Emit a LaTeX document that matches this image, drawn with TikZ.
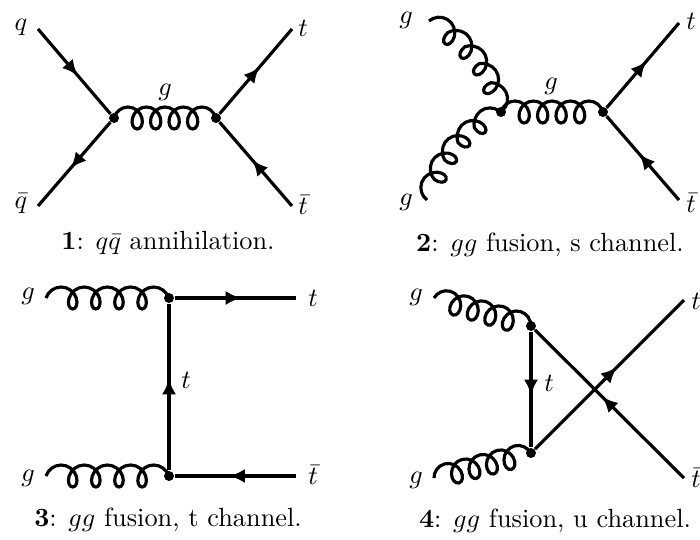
\documentclass[tikz,border=0pt]{standalone}
\usetikzlibrary{decorations.pathmorphing,decorations.markings,arrows.meta}
\tikzset{
  vertexdot/.style={circle,fill=black,inner sep=0pt,minimum size=3.8pt},
  fermion/.style={line width=1.2pt,postaction={decorate},decoration={markings,
    mark=at position 0.55 with {\arrow{Latex[length=6pt,width=5.4pt]}}}},
  gluon/.style={line width=1.2pt,decorate,decoration={coil,amplitude=4.18pt,segment length=#1,aspect=0.85}},
}
\begin{document}
\begin{tikzpicture}[x=0.38pt,y=-0.38pt,every node/.style={inner sep=0pt}]
\useasboundingbox (0,0) rectangle (700,539);
% q qbar annihilation
\coordinate (q1) at (38,29);
\coordinate (qb1) at (38,206);
\coordinate (t1) at (292,29);
\coordinate (tb1) at (292,206);
\node[vertexdot] (v1a) at (114,118) {};
\node[vertexdot] (v1b) at (216,118) {};
\draw[fermion] (q1) -- (v1a);
\draw[fermion] (v1a) -- (qb1);
\draw[fermion] (v1b) -- (t1);
\draw[fermion] (tb1) -- (v1b);
\draw[gluon=7.02pt] (v1a.center) -- (v1b.center);
\node (lq1) at (21,27) {$q$};
\node (lqb1) at (21,204) {$\bar{q}$};
\node (lt1) at (303,28) {$t$};
\node (ltb1) at (303,205) {$\bar{t}$};
\node (lg1) at (165,92) {$g$};
\node (cap1) at (168,243) {\textbf{1}: $q\bar{q}$ annihilation.};
% s channel
\coordinate (g2a) at (429,21);
\coordinate (g2b) at (427,200);
\coordinate (t2) at (679,23);
\coordinate (tb2) at (679,200);
\node[vertexdot] (v2a) at (501,112) {};
\node[vertexdot] (v2b) at (603,112) {};
\draw[gluon=8.39pt] (g2a) to[bend left=20] (v2a.center);
\draw[gluon=8.29pt] (g2b) to[bend left=20] (v2a.center);
\draw[gluon=7.02pt] (v2a.center) -- (v2b.center);
\draw[fermion] (v2b) -- (t2);
\draw[fermion] (tb2) -- (v2b);
\node (lg2a) at (406,20) {$g$};
\node (lg2b) at (406,202) {$g$};
\node (lg2c) at (551,86) {$g$};
\node (lt2) at (691,21) {$t$};
\node (ltb2) at (691,203) {$\bar{t}$};
\node (cap2) at (550,245) {\textbf{2}: $gg$ fusion, s channel.};
% t channel
\coordinate (g3a) at (46,298);
\coordinate (g3b) at (46,476);
\coordinate (t3) at (296,298);
\coordinate (tb3) at (296,476);
\node[vertexdot] (v3a) at (169,298) {};
\node[vertexdot] (v3b) at (169,476) {};
\draw[gluon=8.79pt] (g3a) -- (v3a.center);
\draw[gluon=8.79pt] (g3b) -- (v3b.center);
\draw[fermion] (v3a) -- (t3);
\draw[fermion] (tb3) -- (v3b);
\draw[fermion] (v3b) -- (v3a);
\node (lg3a) at (28,296) {$g$};
\node (lg3b) at (28,478) {$g$};
\node (lt3) at (313,298) {$t$};
\node (ltb3) at (313,475) {$\bar{t}$};
\node (lt3m) at (186,380) {$t$};
\node (cap3) at (168,520) {\textbf{3}: $gg$ fusion, t channel.};
% u channel
\coordinate (g4a) at (434,298);
\coordinate (g4b) at (434,478);
\coordinate (t4) at (684,300);
\coordinate (tb4) at (684,478);
\node[vertexdot] (v4a) at (531,326) {};
\node[vertexdot] (v4b) at (531,453) {};
\draw[gluon=6.93pt] (g4a) -- (v4a.center);
\draw[gluon=6.86pt] (g4b) -- (v4b.center);
\draw[fermion] (v4a) -- (v4b);
\draw[fermion] (v4b) -- (t4);
\draw[fermion] (tb4) -- (v4a);
\node (lg4a) at (416,297) {$g$};
\node (lg4b) at (416,480) {$g$};
\node (lt4m) at (549,383) {$t$};
\node (lt4) at (696,301) {$t$};
\node (ltb4) at (696,478) {$\bar{t}$};
\node (cap4) at (555,521) {\textbf{4}: $gg$ fusion, u channel.};
\end{tikzpicture}
\end{document}
